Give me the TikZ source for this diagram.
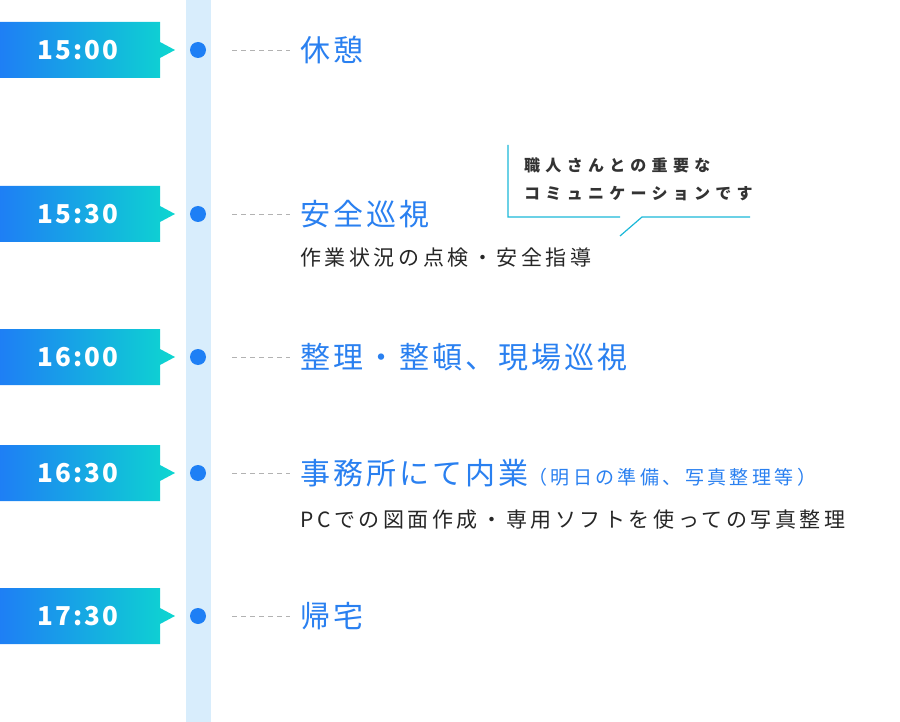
\documentclass[tikz,border=0pt]{standalone}
\usepackage{fontspec}
\setmainfont{Noto Sans CJK JP}
\newfontfamily\titlefont[LetterSpace=10]{Noto Sans CJK JP}
\newfontfamily\subfont[LetterSpace=17]{Noto Sans CJK JP}
\newfontfamily\notefont[LetterSpace=18]{Noto Sans CJK JP}
\newfontfamily\callfont[LetterSpace=33]{Noto Sans CJK JP}
\newfontfamily\timefont[LetterSpace=8]{Noto Sans CJK JP}
\usetikzlibrary{positioning}
\definecolor{tlblue}{HTML}{1E7FF5}
\definecolor{tlteal}{HTML}{0DD6D0}
\definecolor{tlband}{HTML}{D8EDFC}
\definecolor{tltext}{HTML}{2A80F0}
\definecolor{tlcall}{HTML}{1BB8D8}
\tikzstyle{timetext} = [text=white, font=\timefont\fontsize{26}{28}\selectfont\bfseries]
\tikzstyle{title} = [anchor=west, text=tltext, font=\titlefont\fontsize{30}{32}\selectfont, inner sep=0pt]
\tikzstyle{sub} = [anchor=west, text=black!85, font=\subfont\fontsize{21}{23}\selectfont, inner sep=0pt]
\tikzstyle{dot} = [circle, fill=tlblue, minimum size=16pt, inner sep=0pt]
\tikzstyle{dashline} = [draw=black!30, dash pattern=on 5pt off 4pt, thin]
% label box with arrow tip, #1 = name, #2 = y, #3 = time
\newcommand{\timebox}[3]{%
  \shade[left color=tlblue, right color=tlteal]
    (0,#2+28) -- (160,#2+28) -- (160,#2+8) -- (175,#2) -- (160,#2-8)
    -- (160,#2-28) -- (0,#2-28) -- cycle;
  \node (t#1) [timetext] at (78,#2) {#3};
  \node (d#1) [dot] at (198,#2) {};
  \coordinate (e#1) at (290,#2);
  \draw[dashline] (232,#2) -- (e#1);}

\begin{document}
\begin{tikzpicture}[x=1pt, y=-1pt]
\useasboundingbox (0,0) rectangle (900,722);
% timeline band
\fill[tlband] (186,0) rectangle (211,722);

% time entries
\timebox{1}{50}{15:00}
\timebox{2}{214}{15:30}
\timebox{3}{357}{16:00}
\timebox{4}{473}{16:30}
\timebox{5}{616}{17:30}

% titles
\node (n1) [title] at (300,50) {休憩};
\node (n2) [title] at (300,214) {安全巡視};
\node (s2) [sub] at (300,258) {作業状況の点検・安全指導};
\node (n3) [title] at (300,357) {整理・整頓、現場巡視};
\node (n4) [title] at (300,473) {事務所にて内業{\notefont\fontsize{19}{22}\selectfont（明日の準備、写真整理等）}};
\node (s4) [sub] at (300,520) {PCでの図面作成・専用ソフトを使っての写真整理};
\node (n5) [title] at (300,616) {帰宅};

% callout
\node (c1) [anchor=west, inner sep=0pt, align=left, text=black!80,
  font=\callfont\fontsize{16}{28}\selectfont\bfseries] at (524,179)
  {職人さんとの重要な\\コミュニケーションです};
\draw[tlcall, line width=1.2pt] (508,145) -- (508,217) -- (620,217)
  (620,236) -- (642,217) -- (750,217);
\end{tikzpicture}
\end{document}
